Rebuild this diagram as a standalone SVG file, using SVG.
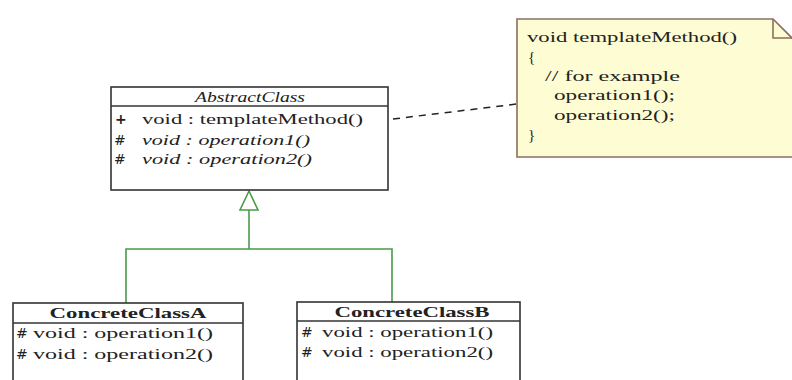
<svg xmlns="http://www.w3.org/2000/svg" width="792" height="380" viewBox="0 0 792 380">
<style>
.box{fill:#fff;stroke:#333;stroke-width:1.6}
.t{font-family:"Liberation Serif","DejaVu Serif",serif;font-size:15px;fill:#222}
.i{font-style:italic}
.b{font-weight:bold}
.g{fill:none;stroke:#4a9a4a;stroke-width:1.6}
.sym{font-family:"DejaVu Sans",sans-serif;font-size:14px;fill:#222}
</style>
<rect width="792" height="380" fill="#fff"/>
<g id="connectors">
<line x1="393" y1="119" x2="517" y2="104" stroke="#222" stroke-width="1.5" stroke-dasharray="7,6"/>
<polyline class="g" points="126,303 126,249 392,249 392,302"/>
<line class="g" x1="249" y1="249" x2="249" y2="210"/>
<polygon points="249,191 240,210 258,210" fill="#fff" stroke="#4a9a4a" stroke-width="1.6"/>
</g>
<g id="abstract">
<rect class="box" x="111" y="87" width="277" height="103"/>
<line x1="111" y1="106" x2="388" y2="106" stroke="#333" stroke-width="1.6"/>
<text class="t i" x="250" y="102" text-anchor="middle" textLength="110" lengthAdjust="spacingAndGlyphs">AbstractClass</text>
<text class="sym" x="115" y="124" font-weight="bold">+</text>
<text class="t" x="142" y="124" textLength="221" lengthAdjust="spacingAndGlyphs">void : templateMethod()</text>
<text class="sym" x="114" y="145">#</text>
<text class="t i" x="142" y="145" textLength="168" lengthAdjust="spacingAndGlyphs">void : operation1()</text>
<text class="sym" x="114" y="164">#</text>
<text class="t i" x="142" y="164" textLength="170" lengthAdjust="spacingAndGlyphs">void : operation2()</text>
</g>
<g id="note">
<path d="M517,19 H773 L795,41 V157 H517 Z" fill="#fefcd2" stroke="#8c6e5e" stroke-width="1.6"/>
<path d="M773,19 V38 H795" fill="none" stroke="#8c6e5e" stroke-width="1.6"/>
<text class="t" x="527" y="42" textLength="210" lengthAdjust="spacingAndGlyphs">void templateMethod()</text>
<text class="t" x="528" y="62">{</text>
<text class="t" x="545" y="81" textLength="135" lengthAdjust="spacingAndGlyphs">// for example</text>
<text class="t" x="554" y="100" textLength="121" lengthAdjust="spacingAndGlyphs">operation1();</text>
<text class="t" x="554" y="120" textLength="121" lengthAdjust="spacingAndGlyphs">operation2();</text>
<text class="t" x="528" y="140">}</text>
</g>
<g id="concreteA">
<rect class="box" x="13" y="303" width="230" height="90"/>
<line x1="13" y1="323" x2="243" y2="323" stroke="#333" stroke-width="1.6"/>
<text class="t b" x="128" y="318" text-anchor="middle" textLength="157" lengthAdjust="spacingAndGlyphs">ConcreteClassA</text>
<text class="sym" x="16" y="338">#</text>
<text class="t" x="33" y="338" textLength="180" lengthAdjust="spacingAndGlyphs">void : operation1()</text>
<text class="sym" x="16" y="359">#</text>
<text class="t" x="33" y="359" textLength="180" lengthAdjust="spacingAndGlyphs">void : operation2()</text>
</g>
<g id="concreteB">
<rect class="box" x="297" y="302" width="223" height="90"/>
<line x1="297" y1="321" x2="520" y2="321" stroke="#333" stroke-width="1.6"/>
<text class="t b" x="412" y="317" text-anchor="middle" textLength="155" lengthAdjust="spacingAndGlyphs">ConcreteClassB</text>
<text class="sym" x="301" y="337">#</text>
<text class="t" x="322" y="337" textLength="171" lengthAdjust="spacingAndGlyphs">void : operation1()</text>
<text class="sym" x="301" y="357">#</text>
<text class="t" x="322" y="357" textLength="171" lengthAdjust="spacingAndGlyphs">void : operation2()</text>
</g>
</svg>
